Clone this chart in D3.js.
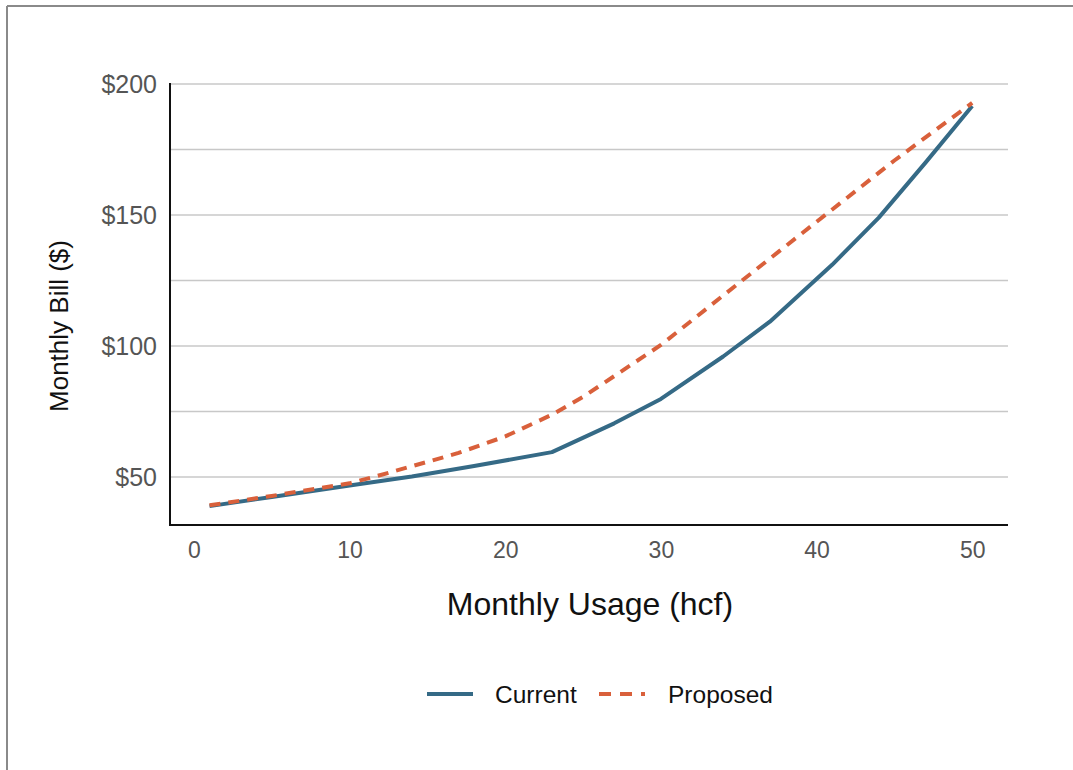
<!DOCTYPE html>
<html>
<head>
<meta charset="utf-8">
<script src="https://cdn.jsdelivr.net/npm/d3@7"></script>
<style>
  html, body { margin: 0; padding: 0; background: #fff; }
  svg { display: block; font-family: "Liberation Sans", Arial, sans-serif; }
</style>
</head>
<body>
<svg id="chart" width="1073" height="770"></svg>
<script>
// Monthly usage (hcf) and bill ($) under the current and proposed rate structures
const usageCurrent = [1, 5, 10, 14, 18, 23, 27, 30, 34, 37, 41, 44, 47, 50];
const billCurrent  = [38.9, 42.4, 46.8, 50.2, 54.2, 59.5, 70.5, 79.8, 96.0, 109.3, 131.0, 149.0, 170.0, 191.6];

const usageProposed = [1, 5, 10, 12, 15, 17, 20, 23, 25, 30, 35, 40, 45, 50];
const billProposed  = [39.2, 42.8, 47.6, 50.8, 55.8, 59.2, 65.5, 73.8, 80.6, 100.4, 124.0, 147.4, 170.8, 192.8];

const xTicks = [0, 10, 20, 30, 40, 50];
const yTickLabels = [50, 100, 150, 200];
const yGrid = [50, 75, 100, 125, 150, 175, 200];

const seriesNames = ["Current", "Proposed"];
const seriesColors = ["#356a86", "#d9603b"];

const svg = d3.select("#chart");

// frame around the chart
svg.append("line").attr("x1", 7).attr("x2", 1073).attr("y1", 6).attr("y2", 6)
  .attr("stroke", "#8a8a8a").attr("stroke-width", 2);
svg.append("line").attr("x1", 7).attr("x2", 7).attr("y1", 6).attr("y2", 770)
  .attr("stroke", "#8a8a8a").attr("stroke-width", 2);

const plot = { left: 170, right: 1008, top: 84, bottom: 525 };

const x = d3.scaleLinear().domain([-1.54, 52.3]).range([plot.left, plot.right]);
const y = d3.scaleLinear().domain([31.7, 200]).range([plot.bottom, plot.top]);

// horizontal gridlines
svg.append("g").selectAll("line").data(yGrid).join("line")
  .attr("x1", plot.left).attr("x2", plot.right)
  .attr("y1", d => y(d)).attr("y2", d => y(d))
  .attr("stroke", "#c8c8c8").attr("stroke-width", 1.5);

// y axis labels
const yAxis = d3.axisLeft(y).tickValues(yTickLabels).tickSize(0).tickPadding(13)
  .tickFormat(d => "$" + d);
const gy = svg.append("g").attr("transform", `translate(${plot.left},0)`).call(yAxis);
gy.select(".domain").remove();
gy.selectAll("text").attr("fill", "#555").attr("font-size", 25)
  .attr("font-family", "Liberation Sans, Arial, sans-serif");

// x axis labels
const xAxis = d3.axisBottom(x).tickValues(xTicks).tickSize(0).tickPadding(17);
const gx = svg.append("g").attr("transform", `translate(0,${plot.bottom})`).call(xAxis);
gx.select(".domain").remove();
gx.selectAll("text").attr("fill", "#555").attr("font-size", 23)
  .attr("font-family", "Liberation Sans, Arial, sans-serif");

// axis lines
svg.append("line").attr("x1", plot.left).attr("x2", plot.left)
  .attr("y1", plot.top - 1).attr("y2", plot.bottom + 1)
  .attr("stroke", "#111").attr("stroke-width", 2);
svg.append("line").attr("x1", plot.left - 1).attr("x2", plot.right)
  .attr("y1", plot.bottom).attr("y2", plot.bottom)
  .attr("stroke", "#111").attr("stroke-width", 2);

// series lines
const line = d3.line().x(d => x(d[0])).y(d => y(d[1]));
const currentPts = usageCurrent.map((u, i) => [u, billCurrent[i]]);
const proposedPts = usageProposed.map((u, i) => [u, billProposed[i]]);

svg.append("path").datum(currentPts).attr("d", line)
  .attr("fill", "none").attr("stroke", seriesColors[0]).attr("stroke-width", 4)
  .attr("stroke-linejoin", "round");
svg.append("path").datum(proposedPts).attr("d", line)
  .attr("fill", "none").attr("stroke", seriesColors[1]).attr("stroke-width", 4)
  .attr("stroke-dasharray", "11,8");

// axis titles
svg.append("text").attr("x", 590).attr("y", 615).attr("text-anchor", "middle")
  .attr("font-size", 32).attr("fill", "#111").text("Monthly Usage (hcf)");
svg.append("text").attr("transform", "translate(68,326) rotate(-90)")
  .attr("text-anchor", "middle").attr("font-size", 26).attr("fill", "#111")
  .text("Monthly Bill ($)");

// legend
const legend = svg.append("g");
const legendItems = [
  { name: seriesNames[0], color: seriesColors[0], dash: null, x0: 427, tx: 495 },
  { name: seriesNames[1], color: seriesColors[1], dash: "12,9", x0: 599, tx: 668 }
];
legendItems.forEach(it => {
  legend.append("line").attr("x1", it.x0).attr("x2", it.x0 + 46)
    .attr("y1", 694).attr("y2", 694)
    .attr("stroke", it.color).attr("stroke-width", 4)
    .attr("stroke-dasharray", it.dash);
  legend.append("text").attr("x", it.tx).attr("y", 703)
    .attr("font-size", 24.5).attr("fill", "#111").text(it.name);
});
</script>
</body>
</html>
